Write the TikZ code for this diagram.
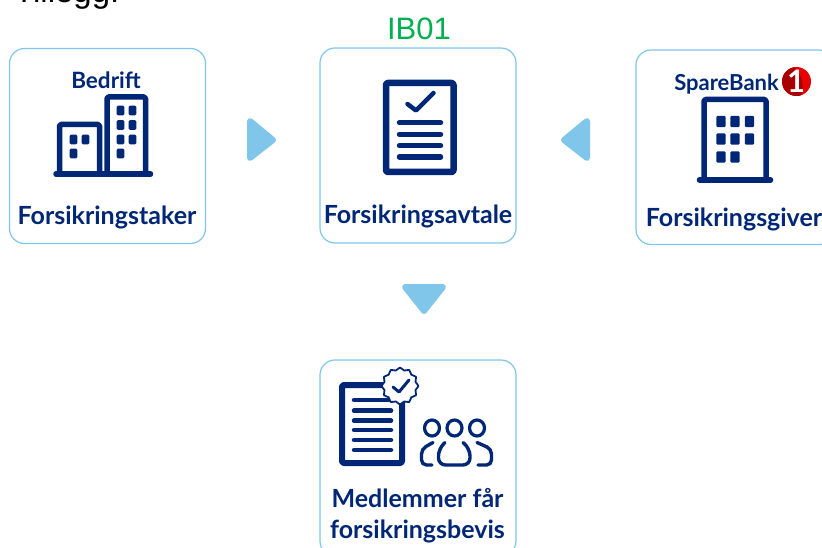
\documentclass[tikz,border=0pt]{standalone}
\usepackage{fontspec}
\setmainfont{Liberation Sans}
\newfontfamily\brand{Lato}
\definecolor{navy}{HTML}{002776}
\definecolor{sky}{HTML}{7FC6EA}
\definecolor{green1}{HTML}{00AF50}
\definecolor{redA}{HTML}{E60000}
\definecolor{redB}{HTML}{A80000}
\tikzset{
  card/.style={draw=sky,line width=1.2pt,fill=white,rounded corners=15pt},
  lbl/.style={inner sep=0pt,text=navy,font=\brand\bfseries\fontsize{25pt}{28pt}\selectfont,align=center},
  ic/.style={draw=navy,line width=5.5pt,rounded corners=1.5pt,line join=round},
  win/.style={fill=navy,rounded corners=1.2pt},
  tri/.style={fill=sky,draw=sky,line width=6pt,line join=round},
  ppl/.style={navy,line width=3.4pt,line cap=round},
}
\begin{document}
\begin{tikzpicture}[x=1pt,y=-1pt]
\useasboundingbox (0,0) rectangle (822,548);
% heading
\node[anchor=base west,inner sep=0pt,font=\fontsize{33pt}{35pt}\selectfont] (head) at (14,3) {Tillegg:};
\node[anchor=base,inner sep=0pt,text=green1,font=\fontsize{31pt}{33pt}\selectfont] (ib) at (419,40) {IB01};
% cards
\draw[card] (9.5,48.5) rectangle (205.5,243.5);
\draw[card] (320,48) rectangle (516,243);
\draw[card] (636,50) rectangle (834,244.5);
\draw[card] (320,360) rectangle (516,556);
% arrows
\path[tri] (250,121) -- (250,158) -- (273,140) -- cycle;
\path[tri] (587,121) -- (587,158) -- (564,140) -- cycle;
\path[tri] (405,287) -- (443,287) -- (424,311) -- cycle;
% labels
\node[lbl,anchor=base] (l1) at (107,224.5) {Forsikringstaker};
\node[lbl,anchor=base] (l2) at (418,224) {Forsikringsavtale};
\node[lbl,anchor=base] (l3) at (734,226) {Forsikringsgiver};
\node[lbl,anchor=base] (l4) at (417.5,507.5) {Medlemmer får};
\node[lbl,anchor=base] (l5) at (417.5,538.5) {forsikringsbevis};
\node[lbl,anchor=base,font=\brand\bfseries\fontsize{22.5pt}{26pt}\selectfont] (be) at (106,89) {Bedrift};
% building pair
\draw[ic] (59.5,172) -- (59.5,124.5) -- (99.5,124.5) -- (99.5,172);
\draw[ic] (107,172) -- (107,97) -- (145.5,97) -- (145.5,172);
\draw[navy,line width=5.5pt,line cap=round] (56,174) -- (150.5,174);
\foreach \p in {(120.5,110.5),(132.5,110.5),(120.5,125),(132.5,125),(120.5,139.5),(132.5,139.5),(120.5,153.5),(73.5,139.5),(85.5,139.5),(73.5,153.5)}{
  \path \p ++(-3.8,-4.8) coordinate (a) ++(7.6,9.6) coordinate (b);
  \fill[win] (a) rectangle (b);}
% contract
\draw[ic,line width=6.5pt,rounded corners=2pt] (386,83) rectangle (453.5,172);
\draw[navy,line width=4.5pt,line cap=round,line join=round] (407.5,104) -- (416,110.5) -- (433.5,93);
\foreach \y in {122.7,134.3,145.7,157}{\draw[navy,line width=5.5pt,line cap=round] (399.5,\y) -- (440.5,\y);}
% bank
\node[inner sep=0pt,anchor=base east,text=navy,font=\brand\bfseries\fontsize{22pt}{25pt}\selectfont] (sb) at (779,90.5) {SpareBank};
\fill[redA] (796.5,81.5) circle (14.5);
\fill[redB] (796.5,81.5) ++(70:14.5) arc (70:260:14.5) to[bend left=30] cycle;
\node[inner sep=0pt,text=white,font=\brand\bfseries\fontsize{31pt}{31pt}\selectfont] (one) at (796,81.5) {1};
\draw[ic] (704,179) -- (704,99.5) -- (766,99.5) -- (766,179);
\draw[navy,line width=5.5pt,line cap=round] (699.5,180) -- (770.5,180);
\foreach \p in {(721,121.5),(735,121.5),(749.5,121.5),(721,139),(735,139),(749.5,139),(721,157),(735,157)}{
  \path \p ++(-4.7,-5.7) coordinate (a) ++(9.4,11.4) coordinate (b);
  \fill[win] (a) rectangle (b);}
% member document
\draw[ic,line width=6pt,rounded corners=2pt] (342,385) rectangle (402,463);
\foreach \y in {400,410.7,420.7,430,440,450}{\draw[navy,line width=4.5pt,line cap=round] (354,\y) -- (391,\y);}
\fill[white,draw=navy,line width=1.8pt,line join=round] plot[smooth cycle,samples=24,domain=0:345,variable=\a] ({400+(\a/30==int(\a/30)?18.5:16)*cos(\a)},{386+(\a/30==int(\a/30)?18.5:16)*sin(\a)});
\draw[navy,line width=3pt,line cap=round,line join=round] (393,387) -- (399,392) -- (409,380);
% people
\draw[navy,line width=3.2pt] (432,428) circle [x radius=7.5,y radius=8] (454.5,428) circle [x radius=7.5,y radius=8] (477,428) circle [x radius=7.5,y radius=8];
\draw[ppl,rounded corners=5pt] (433,442.5) -- (421.5,449) -- (421.5,465) -- (432,465);
\draw[ppl,rounded corners=5pt] (477,442.5) -- (491.5,449) -- (491.5,465) -- (478,465);
\draw[ppl,rounded corners=7pt] (445,442.5) -- (438.5,449) -- (438.5,465) -- (470,465) -- (470,449) -- (463,442.5);
\end{tikzpicture}
\end{document}
